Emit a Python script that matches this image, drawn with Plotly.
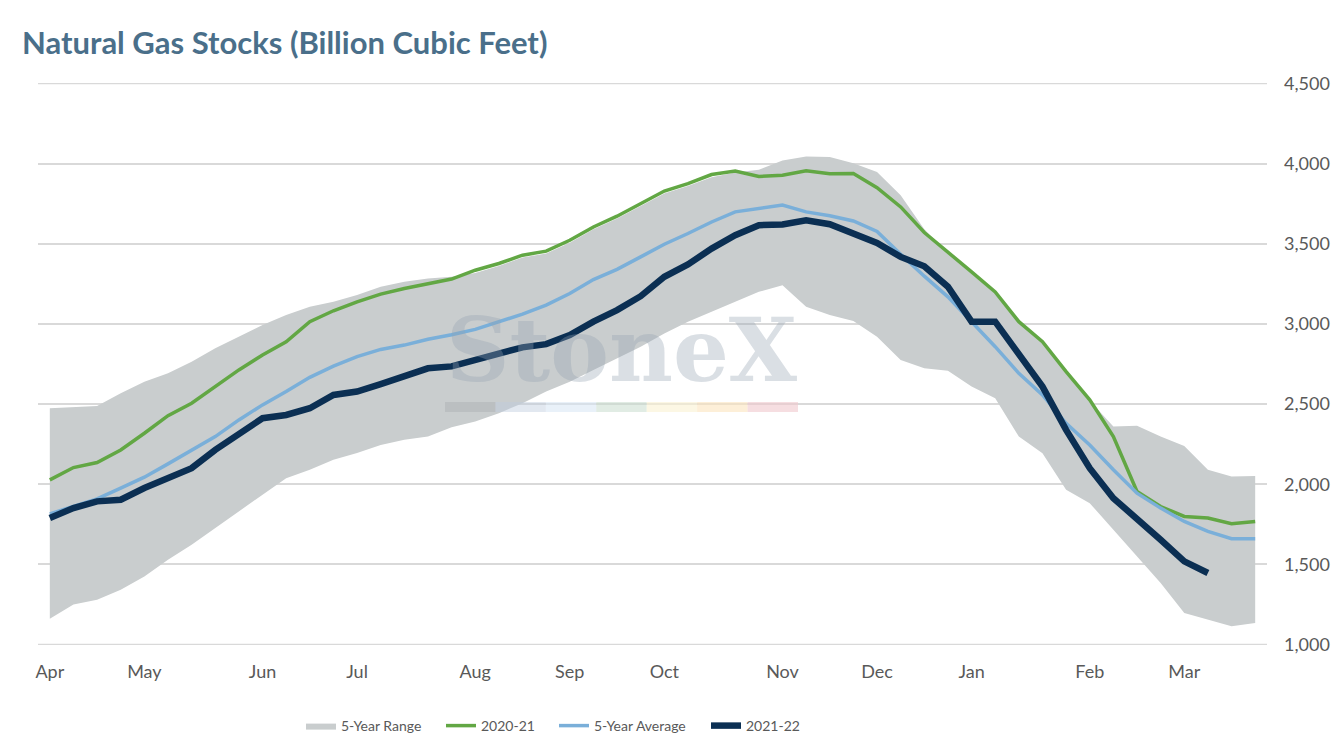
import plotly.graph_objects as go

# weekly storage, week 0 = first week of April
weeks = list(range(52))

month_labels = ["Apr", "May", "Jun", "Jul", "Aug", "Sep", "Oct", "Nov", "Dec", "Jan", "Feb", "Mar"]
month_weeks = [0, 4, 9, 13, 18, 22, 26, 31, 35, 39, 44, 48]

range_low = [1160, 1249, 1280, 1342, 1425, 1529, 1623, 1727, 1830, 1934,
             2038, 2090, 2152, 2194, 2245, 2277, 2297, 2355, 2391, 2443,
             2505, 2578, 2640, 2713, 2785, 2858, 2941, 3014, 3076, 3138,
             3200, 3242, 3107, 3055, 3019, 2920, 2775, 2723, 2708, 2609,
             2536, 2297, 2193, 1965, 1882, 1716, 1550, 1384, 1197, 1155,
             1114, 1135]

range_high = [2474, 2480, 2488, 2567, 2640, 2692, 2764, 2848, 2920, 2993,
              3055, 3107, 3138, 3180, 3232, 3263, 3283, 3295, 3318, 3362,
              3414, 3439, 3507, 3590, 3657, 3736, 3814, 3860, 3915, 3945,
              3962, 4020, 4045, 4041, 4002, 3948, 3802, 3590, 3440, 3315,
              3190, 3005, 2880, 2695, 2520, 2360, 2364, 2297, 2239, 2090,
              2048, 2052]

stocks_2020_21 = [2027, 2104, 2135, 2214, 2318, 2428, 2505, 2609, 2713, 2806,
                  2889, 3014, 3082, 3138, 3186, 3221, 3252, 3280, 3335, 3377,
                  3429, 3454, 3522, 3605, 3672, 3751, 3829, 3875, 3932, 3954,
                  3920, 3927, 3955, 3937, 3938, 3850, 3730, 3570, 3450, 3325,
                  3200, 3014, 2889, 2702, 2526, 2297, 1955, 1861, 1799, 1789,
                  1753, 1768]

avg_5yr = [1815, 1861, 1909, 1976, 2044, 2127, 2210, 2297, 2401, 2495,
           2578, 2667, 2737, 2796, 2841, 2868, 2904, 2932, 2966, 3014,
           3061, 3117, 3190, 3277, 3340, 3418, 3497, 3564, 3636, 3699,
           3722, 3742, 3699, 3675, 3642, 3577, 3435, 3298, 3169, 3014,
           2858, 2692, 2557, 2380, 2245, 2090, 1944, 1851, 1768, 1706,
           1660, 1660]

stocks_2021_22 = [1789, 1851, 1893, 1903, 1976, 2038, 2100, 2214, 2318, 2412,
                  2432, 2474, 2557, 2578, 2625, 2675, 2723, 2735, 2775, 2823,
                  2854, 2874, 2930, 3014, 3086, 3173, 3294, 3371, 3470, 3553,
                  3616, 3620, 3647, 3622, 3560, 3505, 3418, 3360, 3232, 3014,
                  3014, 2816, 2609, 2339, 2100, 1913, 1789, 1654, 1519, 1446]

y_min, y_max = 1000, 4500

W, H = 1336, 742          # page body has an 8px margin
L, T = 30, 75
PW, PH = 1229, 562        # plot area in px


def px_x(page_x):
    return (page_x - 8 - L) / PW


def px_y(page_y):
    return (T + PH - (page_y - 8)) / PH


fig = go.Figure()

fig.add_trace(go.Scatter(
    x=weeks, y=range_low, mode="lines", line=dict(width=0, color="#c9cdce"),
    showlegend=False, hoverinfo="skip"))
fig.add_trace(go.Scatter(
    x=weeks, y=range_high, mode="lines", line=dict(width=0, color="#c9cdce"),
    fill="tonexty", fillcolor="#c9cdce", name="5-Year Range", legend="legend"))
fig.add_trace(go.Scatter(
    x=weeks, y=stocks_2020_21, mode="lines",
    line=dict(color="#62a744", width=3.5), name="2020-21", legend="legend2"))
fig.add_trace(go.Scatter(
    x=weeks, y=avg_5yr, mode="lines",
    line=dict(color="#7aafd9", width=3.5), name="5-Year Average", legend="legend3"))
fig.add_trace(go.Scatter(
    x=weeks[:len(stocks_2021_22)], y=stocks_2021_22, mode="lines",
    line=dict(color="#0b2f53", width=6.5), name="2021-22", legend="legend4"))

# top and bottom gridlines (plotly skips grid at the plot edges)
for gv in (y_min, y_max):
    fig.add_shape(type="line", xref="paper", yref="y", x0=0, x1=1, y0=gv, y1=gv,
                  line=dict(color="#d9d9d9", width=1.5), layer="below")

# StoneX watermark
fig.add_annotation(
    text="<b>StoneX</b>", xref="paper", yref="paper", x=px_x(622), y=px_y(350),
    showarrow=False, font=dict(family="DejaVu Serif", size=88,
                               color="rgba(150,163,178,0.35)"))
bar_colors = ["rgba(170,176,178,0.45)", "rgba(190,205,222,0.45)",
              "rgba(215,230,244,0.55)", "rgba(200,220,205,0.55)",
              "rgba(250,242,210,0.6)", "rgba(252,228,190,0.6)",
              "rgba(240,200,205,0.6)"]
seg = (px_x(798) - px_x(445)) / len(bar_colors)
for i, c in enumerate(bar_colors):
    fig.add_shape(type="rect", xref="paper", yref="paper",
                  x0=px_x(445) + i * seg, x1=px_x(445) + (i + 1) * seg,
                  y0=px_y(412), y1=px_y(402),
                  fillcolor=c, line=dict(width=0), layer="above")

legend_style = dict(orientation="h", xanchor="left", yanchor="middle",
                    y=px_y(726),
                    font=dict(family="Lato", size=14, color="#595959"),
                    itemwidth=30, bgcolor="rgba(0,0,0,0)")

fig.update_layout(
    width=W, height=H,
    paper_bgcolor="white", plot_bgcolor="white",
    margin=dict(l=L, r=W - L - PW, t=T, b=H - T - PH, autoexpand=False),
    font=dict(family="Lato", size=16, color="#595959"),
    title=dict(text="<b>Natural Gas Stocks (Billion Cubic Feet)</b>",
               xref="container", yref="container", x=14 / W, y=1 - 35 / H,
               xanchor="left", yanchor="middle",
               font=dict(family="Lato", size=31, color="#4a6f8a")),
    xaxis=dict(range=[-0.5, 51.5], tickvals=month_weeks, ticktext=month_labels,
               showgrid=False, zeroline=False, showline=False, ticks="",
               ticklabelstandoff=14,
               tickfont=dict(size=18, color="#595959")),
    yaxis=dict(range=[y_min - 3, y_max + 3], dtick=500, side="right", tickformat=",",
               showgrid=True, gridcolor="#d9d9d9", gridwidth=1.5,
               zeroline=False, showline=False, ticks="",
               ticklabelstandoff=16,
               tickfont=dict(size=18, color="#595959")),
    legend=dict(x=px_x(301), **legend_style),
    legend2=dict(x=px_x(441), **legend_style),
    legend3=dict(x=px_x(554), **legend_style),
    legend4=dict(x=px_x(706), **legend_style),
    hovermode=False,
)

fig.write_html("out.html")
